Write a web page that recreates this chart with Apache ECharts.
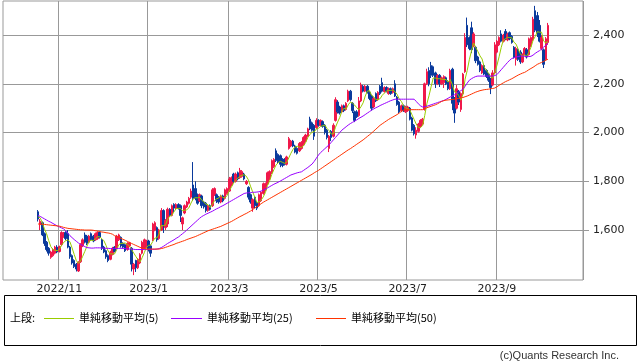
<!DOCTYPE html>
<html><head><meta charset="utf-8">
<script src="https://cdn.jsdelivr.net/npm/echarts@6/dist/echarts.min.js"></script>
<style>html,body{margin:0;padding:0;background:#fff}#c{width:638px;height:362px}</style>
</head><body><div id="c"></div>
<script>
const monthNames = ['2022/10','2022/11','2022/12','2023/1','2023/2','2023/3','2023/4','2023/5','2023/6','2023/7','2023/8','2023/9','2023/10'];
const tradingDays = [10,20,22,19,19,22,20,20,22,20,22,20,5];
const tickLabels = ['2022/11','2023/1','2023/3','2023/5','2023/7','2023/9'];
const yTicks = [1600,1800,2000,2200,2400];

const opens = [1675,1622,1630,1585,1550,1525,1488,1495,1505,1530,
1512,1540,1575,1590,1585,1530,1495,1475,1460,1432,
1470,1535,1580,1575,1550,1585,1575,1560,1565,1590,
1560,1530,1515,1495,1480,1500,1530,1525,1560,1570,
1545,1540,1520,1535,1525,1440,1475,1445,1465,1505,
1525,1530,1555,1535,1560,1600,1610,1565,1600,1680,
1610,1625,1685,1660,1705,1690,1705,1700,1625,1670,
1695,1710,1735,1785,1770,1745,1720,1740,1715,1710,
1680,1700,1700,1745,1745,1735,1715,1740,1730,1750,
1760,1785,1830,1800,1835,1815,1820,1830,1790,1775,
1745,1690,1735,1710,1700,1720,1750,1765,1790,1810,
1835,1860,1925,1910,1905,1890,1890,1870,1935,1945,
1965,1945,1935,1925,1935,1950,1965,1985,2055,2040,
2030,2020,2050,2030,2045,2030,2010,1935,2005,1985,
2050,2125,2105,2085,2110,2095,2130,2170,2120,2085,
2085,2070,2130,2190,2170,2190,2165,2150,2105,2160,
2135,2190,2205,2168,2185,2160,2180,2165,2200,2145,
2125,2090,2110,2085,2090,2100,2060,2030,1990,2005,
2025,2035,2095,2200,2255,2275,2270,2245,2200,2235,
2200,2205,2225,2210,2180,2260,2140,2100,2170,2095,
2160,2250,2440,2390,2430,2355,2350,2310,2290,2245,
2275,2255,2240,2220,2195,2245,2330,2360,2405,2375,
2415,2380,2410,2395,2350,2300,2340,2330,2290,2320,
2340,2320,2355,2380,2500,2480,2440,2345,2340,2300,
2370];
const closes = [1645,1636,1580,1545,1520,1505,1510,1520,1530,1510,
1532,1590,1585,1565,1530,1490,1465,1450,1440,1468,
1540,1560,1550,1545,1575,1560,1555,1585,1590,1570,
1525,1510,1490,1475,1510,1525,1512,1575,1580,1535,
1530,1515,1545,1548,1460,1460,1445,1480,1500,1550,
1560,1555,1520,1505,1625,1630,1560,1600,1680,1620,
1640,1685,1660,1700,1690,1705,1690,1660,1650,1700,
1715,1730,1760,1730,1730,1710,1745,1700,1695,1680,
1700,1685,1765,1770,1720,1715,1740,1720,1765,1770,
1810,1815,1800,1830,1810,1845,1840,1810,1800,1735,
1715,1725,1700,1690,1745,1755,1790,1790,1835,1840,
1885,1890,1885,1880,1870,1865,1870,1900,1975,1965,
1945,1920,1915,1955,1960,1980,1990,2015,2015,2010,
1985,2050,2030,2050,2025,2000,1980,1985,1980,2030,
2135,2085,2080,2110,2090,2120,2170,2135,2090,2050,
2065,2130,2195,2170,2190,2165,2140,2100,2140,2130,
2165,2160,2170,2185,2170,2180,2160,2180,2150,2115,
2085,2110,2090,2105,2105,2055,2010,1995,2010,2035,
2050,2055,2200,2250,2200,2235,2235,2200,2235,2200,
2225,2230,2200,2180,2255,2120,2080,2180,2125,2160,
2240,2390,2360,2345,2340,2405,2295,2280,2255,2275,
2240,2230,2215,2185,2245,2360,2375,2390,2375,2400,
2385,2405,2385,2370,2310,2345,2300,2290,2320,2345,
2310,2385,2390,2465,2420,2410,2375,2390,2280,2385,
2440];
const lows = [1635,1600,1575,1535,1512,1495,1482,1490,1500,1505,
1508,1535,1568,1558,1525,1482,1458,1444,1430,1428,
1465,1530,1545,1538,1546,1555,1550,1556,1560,1565,
1518,1505,1482,1468,1476,1496,1508,1520,1555,1528,
1525,1510,1515,1530,1430,1415,1428,1440,1460,1500,
1520,1525,1512,1490,1555,1595,1552,1560,1596,1588,
1600,1612,1654,1656,1674,1685,1684,1633,1600,1665,
1690,1705,1728,1720,1722,1704,1715,1690,1688,1672,
1675,1680,1695,1740,1711,1708,1710,1714,1725,1745,
1756,1780,1793,1795,1804,1810,1815,1804,1785,1725,
1708,1675,1690,1682,1695,1715,1745,1760,1785,1805,
1830,1855,1879,1874,1858,1858,1865,1865,1930,1940,
1940,1915,1910,1920,1930,1946,1960,1980,2010,2004,
1970,2015,2024,2026,2020,1992,1972,1920,1965,1980,
2045,2078,2074,2080,2084,2090,2125,2128,2080,2043,
2060,2065,2125,2165,2166,2160,2133,2090,2100,2125,
2130,2154,2165,2164,2165,2155,2155,2160,2146,2110,
2080,2084,2085,2080,2085,2050,2005,1988,1975,2000,
2020,2030,2090,2195,2190,2224,2228,2183,2195,2187,
2195,2183,2195,2174,2175,2092,2040,2095,2113,2085,
2155,2245,2351,2338,2326,2350,2285,2275,2248,2240,
2236,2224,2208,2158,2190,2240,2325,2355,2370,2370,
2379,2375,2379,2365,2304,2275,2294,2282,2285,2316,
2304,2316,2350,2375,2412,2392,2370,2338,2265,2295,
2360];
const highs = [1682,1645,1635,1590,1555,1530,1515,1525,1535,1538,
1536,1595,1592,1595,1600,1535,1500,1480,1465,1472,
1546,1566,1590,1580,1580,1590,1580,1590,1595,1594,
1565,1535,1520,1500,1515,1531,1534,1580,1585,1574,
1550,1545,1550,1552,1530,1465,1478,1485,1505,1556,
1565,1560,1560,1540,1630,1636,1615,1605,1690,1685,
1645,1692,1690,1705,1710,1710,1710,1705,1655,1705,
1720,1736,1770,1879,1800,1750,1750,1745,1720,1715,
1705,1705,1772,1775,1750,1740,1745,1745,1770,1775,
1818,1820,1835,1836,1840,1855,1846,1835,1805,1780,
1750,1730,1740,1715,1750,1760,1795,1795,1840,1845,
1890,1895,1935,1915,1910,1895,1895,1905,1982,1970,
1970,1950,1940,1961,1965,1985,1995,2020,2065,2045,
2035,2059,2055,2054,2050,2035,2015,1990,2010,2038,
2145,2133,2110,2115,2115,2125,2176,2175,2125,2090,
2092,2146,2205,2195,2195,2195,2170,2155,2145,2165,
2170,2195,2225,2190,2190,2185,2185,2185,2215,2150,
2130,2115,2115,2110,2110,2105,2065,2035,2022,2040,
2055,2060,2205,2262,2268,2290,2275,2250,2240,2240,
2230,2235,2230,2215,2262,2266,2146,2195,2175,2165,
2245,2408,2472,2395,2455,2412,2355,2315,2295,2280,
2280,2260,2245,2225,2256,2371,2380,2395,2420,2405,
2425,2410,2415,2400,2355,2352,2345,2338,2325,2351,
2347,2390,2395,2475,2520,2495,2462,2400,2345,2392,
2450];
const ma5 = [1655,1650,1630,1605,1585,1557,1532,1520,1517,1515,
1520,1536,1549,1556,1560,1552,1527,1500,1475,1463,
1473,1492,1512,1533,1554,1558,1557,1564,1573,1572,
1565,1556,1537,1514,1502,1502,1502,1519,1540,1545,
1546,1547,1541,1535,1520,1506,1492,1479,1469,1487,
1507,1529,1537,1538,1553,1567,1568,1584,1619,1618,
1620,1645,1657,1661,1675,1688,1689,1689,1679,1681,
1683,1691,1711,1727,1733,1732,1735,1723,1716,1706,
1704,1692,1705,1720,1728,1731,1742,1733,1732,1742,
1761,1776,1792,1805,1813,1820,1825,1827,1821,1806,
1780,1757,1735,1713,1715,1723,1736,1754,1783,1802,
1828,1848,1867,1876,1882,1878,1874,1877,1896,1915,
1931,1941,1944,1940,1939,1946,1960,1980,1992,2002,
2003,2015,2018,2025,2028,2031,2017,2008,1994,1995,
2022,2043,2062,2088,2100,2097,2114,2125,2121,2113,
2102,2094,2106,2122,2150,2170,2172,2153,2147,2135,
2135,2139,2153,2162,2170,2173,2173,2175,2168,2157,
2138,2128,2110,2101,2099,2093,2073,2054,2035,2021,
2020,2029,2070,2118,2151,2188,2224,2224,2221,2221,
2219,2218,2218,2207,2218,2197,2167,2163,2152,2133,
2157,2219,2255,2299,2335,2368,2349,2333,2315,2302,
2269,2256,2243,2229,2223,2247,2276,2311,2349,2380,
2385,2391,2390,2389,2371,2363,2342,2323,2313,2320,
2313,2330,2350,2379,2394,2414,2412,2412,2375,2368,
2374];
const ma25 = [1660,1656,1651,1646,1641,1636,1632,1627,1622,1617,
1613,1609,1605,1597,1587,1577,1569,1561,1554,1547,
1541,1537,1532,1528,1527,1526,1526,1527,1527,1527,
1526,1526,1525,1525,1524,1524,1524,1524,1525,1525,
1525,1524,1523,1522,1522,1521,1520,1520,1520,1520,
1520,1520,1520,1521,1521,1521,1522,1524,1528,1533,
1539,1545,1550,1555,1560,1566,1571,1578,1585,1592,
1600,1608,1616,1624,1632,1640,1648,1655,1660,1665,
1669,1673,1677,1682,1687,1691,1696,1700,1705,1710,
1715,1720,1725,1730,1735,1740,1745,1750,1752,1753,
1754,1755,1755,1756,1757,1760,1764,1768,1773,1778,
1783,1788,1792,1796,1801,1806,1811,1816,1821,1826,
1829,1832,1835,1837,1839,1845,1851,1857,1864,1871,
1882,1895,1908,1918,1926,1934,1942,1950,1960,1970,
1980,1990,2000,2010,2017,2024,2031,2037,2042,2047,
2052,2058,2063,2068,2074,2080,2086,2092,2097,2102,
2106,2111,2115,2119,2123,2127,2131,2134,2137,2137,
2137,2137,2137,2137,2137,2137,2137,2137,2128,2118,
2110,2105,2106,2108,2111,2114,2117,2120,2123,2126,
2129,2132,2136,2141,2146,2150,2155,2160,2166,2172,
2178,2190,2203,2215,2221,2226,2230,2232,2232,2232,
2232,2232,2232,2232,2232,2234,2238,2248,2258,2268,
2278,2288,2297,2304,2307,2310,2312,2314,2314,2313,
2312,2312,2313,2318,2325,2331,2336,2343,2351,2358,
2366];
const ma50 = [1625,1624,1624,1623,1622,1621,1620,1619,1618,1617,
1616,1614,1611,1609,1607,1606,1605,1604,1603,1602,
1601,1601,1600,1600,1600,1600,1599,1597,1596,1594,
1592,1591,1589,1588,1586,1583,1577,1573,1570,1566,
1562,1558,1554,1549,1545,1541,1537,1533,1529,1526,
1524,1522,1522,1522,1522,1522,1522,1522,1524,1526,
1529,1532,1535,1538,1541,1545,1548,1551,1554,1557,
1561,1564,1567,1570,1573,1577,1581,1585,1589,1593,
1597,1600,1603,1606,1609,1612,1615,1619,1623,1627,
1631,1635,1640,1645,1650,1655,1659,1664,1668,1673,
1678,1684,1690,1696,1702,1708,1714,1719,1724,1729,
1734,1739,1744,1749,1754,1759,1764,1769,1774,1779,
1784,1789,1794,1799,1804,1809,1814,1819,1824,1829,
1835,1840,1845,1851,1857,1863,1869,1875,1881,1887,
1893,1899,1905,1911,1917,1923,1929,1934,1940,1946,
1952,1958,1964,1970,1977,1984,1991,1998,2006,2014,
2022,2030,2036,2042,2048,2054,2059,2064,2069,2074,
2080,2087,2092,2094,2094,2094,2094,2094,2094,2094,
2094,2094,2098,2102,2105,2108,2111,2114,2118,2123,
2128,2131,2133,2134,2135,2136,2137,2139,2140,2142,
2144,2147,2150,2154,2158,2162,2166,2169,2172,2174,
2176,2177,2178,2180,2181,2183,2188,2194,2199,2204,
2209,2213,2217,2221,2226,2231,2236,2240,2244,2247,
2252,2258,2263,2268,2274,2280,2284,2288,2292,2297,
2301];

const padLeft = 16, padRight = 16;
const cats = [];
for (let k = 0; k < padLeft; k++) cats.push('L' + k);
monthNames.forEach((m, mi) => { for (let d = 1; d <= tradingDays[mi]; d++) cats.push(m + '-' + d); });
for (let k = 0; k < padRight; k++) cats.push('R' + k);
const isTick = (v) => { const p = String(v).split('-'); return p[1] === '1' && tickLabels.indexOf(p[0]) >= 0; };
const pad = (a) => Array(padLeft).fill('-').concat(a, Array(padRight).fill('-'));
const ohlc = opens.map((o, i) => [o, closes[i], lows[i], highs[i]]);

const UP = '#f0184a', DOWN = '#0a3a9c';
const C5 = '#99cc00', C25 = '#9900ff', C50 = '#ff3300';
const LAT = '"DejaVu Sans", sans-serif';
const JP = '"Noto Sans CJK JP", sans-serif';
const chart = echarts.init(document.getElementById('c'), null, {renderer: 'canvas'});
chart.setOption({
  animation: false,
  backgroundColor: '#fff',
  grid: {left: 3, right: 55, top: 1, bottom: 82, show: true, borderColor: '#999', borderWidth: 1, containLabel: false},
  xAxis: {
    type: 'category', data: cats, boundaryGap: true,
    axisLine: {show: false},
    axisTick: {show: false, interval: (i, v) => isTick(v)},
    axisLabel: {interval: (i, v) => isTick(v), formatter: (v) => String(v).split('-')[0], color: '#222', fontSize: 11, fontFamily: LAT, margin: 4},
    splitLine: {show: true, interval: (i, v) => isTick(v), lineStyle: {color: '#999', width: 1}}
  },
  yAxis: {
    type: 'value', position: 'right', min: 1395, max: 2540, scale: true,
    axisLine: {show: false},
    axisTick: {show: true, length: 6, customValues: yTicks, lineStyle: {color: '#999'}},
    axisLabel: {customValues: yTicks, formatter: (v) => Number(v).toLocaleString('en-US'), color: '#222', fontSize: 11, fontFamily: LAT, margin: 10},
    splitLine: {show: true, lineStyle: {color: '#999', width: 1}}
  },
  series: [
    {name: 'price', type: 'candlestick', data: pad(ohlc), barWidth: 2,
     itemStyle: {color: UP, color0: DOWN, borderColor: UP, borderColor0: DOWN, borderWidth: 1}},
    {name: '単純移動平均(5)', type: 'line', data: pad(ma5), showSymbol: false, symbol: 'none', lineStyle: {color: C5, width: 1}, z: 3},
    {name: '単純移動平均(25)', type: 'line', data: pad(ma25), showSymbol: false, symbol: 'none', lineStyle: {color: C25, width: 1}, z: 3},
    {name: '単純移動平均(50)', type: 'line', data: pad(ma50), showSymbol: false, symbol: 'none', lineStyle: {color: C50, width: 1}, z: 3}
  ],
  graphic: [
    {type: 'rect', shape: {x: 4.5, y: 295.5, width: 632, height: 50}, style: {fill: 'none', stroke: '#000', lineWidth: 1}},
    {type: 'text', x: 10, y: 318, style: {text: '上段:', font: '11px ' + JP, fill: '#000', verticalAlign: 'middle'}},
    {type: 'line', shape: {x1: 44, y1: 318.5, x2: 74, y2: 318.5}, style: {stroke: C5, lineWidth: 1}},
    {type: 'text', x: 79, y: 318, style: {text: '単純移動平均(5)', font: '11px ' + JP, fill: '#000', verticalAlign: 'middle'}},
    {type: 'line', shape: {x1: 171, y1: 318.5, x2: 202, y2: 318.5}, style: {stroke: C25, lineWidth: 1}},
    {type: 'text', x: 207, y: 318, style: {text: '単純移動平均(25)', font: '11px ' + JP, fill: '#000', verticalAlign: 'middle'}},
    {type: 'line', shape: {x1: 316, y1: 318.5, x2: 346, y2: 318.5}, style: {stroke: C50, lineWidth: 1}},
    {type: 'text', x: 351, y: 318, style: {text: '単純移動平均(50)', font: '11px ' + JP, fill: '#000', verticalAlign: 'middle'}},
    {type: 'text', x: 619, y: 356, style: {text: '(c)Quants Research Inc.', font: '11px "Liberation Sans", sans-serif', fill: '#333', align: 'right', verticalAlign: 'middle'}}
  ]
});
</script></body></html>
